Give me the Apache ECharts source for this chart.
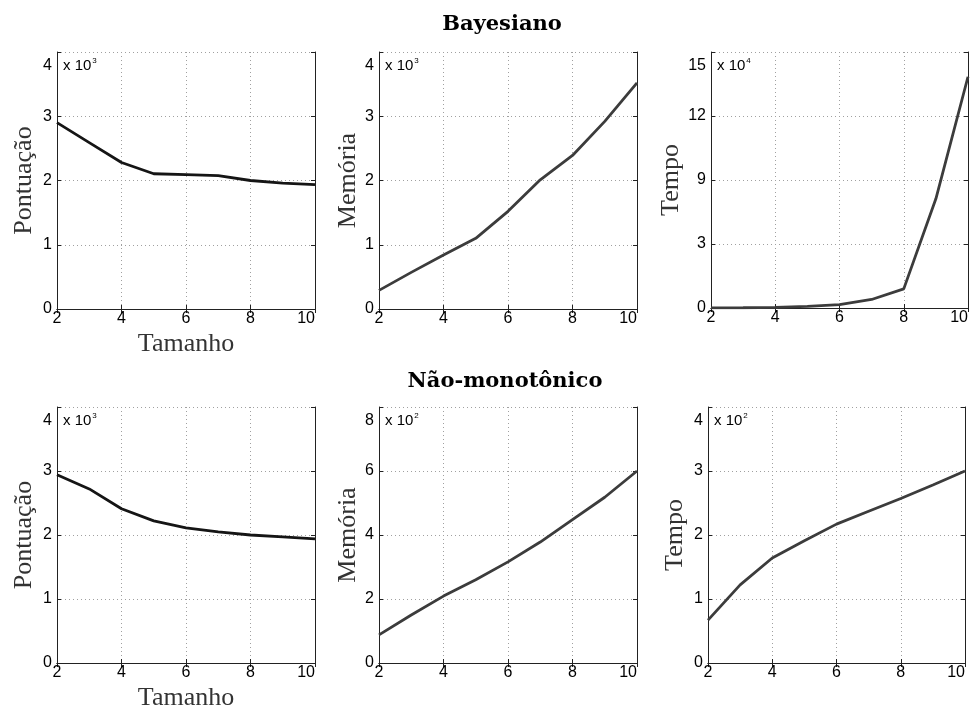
<!DOCTYPE html>
<html>
<head>
<meta charset="utf-8">
<script src="https://cdn.jsdelivr.net/npm/echarts@6/dist/echarts.min.js"></script>
<style>
  html, body { margin: 0; padding: 0; background: #fff; }
  #main { width: 970px; height: 711px; }
</style>
</head>
<body>
<div id="main"></div>
<script>
// tamanho (x)
var sizes = [2, 3, 4, 5, 6, 7, 8, 9, 10];

// Bayesiano
var scoreBayes = [2900, 2590, 2280, 2105, 2090, 2075, 2000, 1960, 1935];
var memBayes = [290, 570, 840, 1100, 1520, 2010, 2390, 2920, 3520];
var timeBayes = [60, 150, 400, 900, 2000, 5000, 11200, 64000, 135500];

// Não-monotônico
var scoreNM = [2940, 2720, 2410, 2220, 2110, 2050, 2000, 1970, 1940];
var memNM = [88, 150, 209, 260, 316, 378, 448, 518, 600];
var timeNM = [67, 122, 164, 191, 217, 237, 257, 278, 300];

// tick labels as printed
var ticksFour = ['0', '1', '2', '3', '4'];
var ticksTimeBayes = ['0', '3', '9', '12', '15'];
var ticksEight = ['0', '2', '4', '6', '8'];
var xTicks = ['2', '4', '6', '8', '10'];

var panels = [
  {box: [57, 52, 258, 257], data: scoreBayes, ticks: ticksFour, max: 4000, exp: '3', name: 'Pontuação', gap: 20, xName: 'Tamanho', color: '#151515'},
  {box: [379, 52, 258, 257], data: memBayes, ticks: ticksFour, max: 4000, exp: '3', name: 'Memória', gap: 14, color: '#3c3c3c'},
  {box: [711, 52, 257, 256], data: timeBayes, ticks: ticksTimeBayes, max: 150000, exp: '4', name: 'Tempo', gap: 24, color: '#3c3c3c'},
  {box: [57, 407, 258, 256], data: scoreNM, ticks: ticksFour, max: 4000, exp: '3', name: 'Pontuação', gap: 20, xName: 'Tamanho', color: '#151515'},
  {box: [379, 407, 258, 256], data: memNM, ticks: ticksEight, max: 800, exp: '2', name: 'Memória', gap: 14, color: '#3c3c3c'},
  {box: [708, 407, 257, 256], data: timeNM, ticks: ticksFour, max: 400, exp: '2', name: 'Tempo', gap: 20, color: '#3c3c3c'}
];

var sans = 'Liberation Sans';
var serif = 'Liberation Serif';
var grids = [], xAxes = [], yAxes = [], series = [], graphics = [];

var lineAxis = {show: true, lineStyle: {color: '#222', width: 1}};
var tickIn = {show: true, inside: true, length: 4, lineStyle: {color: '#222'}};
var dotted = {show: true, lineStyle: {color: '#a0a0a0', width: 1, type: [1, 3]}};

panels.forEach(function (p, i) {
  var step = p.max / 4;
  grids.push({left: p.box[0], top: p.box[1], width: p.box[2], height: p.box[3], outerBoundsMode: 'none'});

  xAxes.push({
    type: 'value', gridIndex: i, position: 'bottom', min: 2, max: 10, interval: 2,
    axisLine: lineAxis, axisTick: tickIn, splitLine: dotted,
    axisLabel: {
      color: '#000', fontFamily: sans, fontSize: 16, margin: 2, alignMaxLabel: 'right',
      formatter: function (v) { return xTicks[Math.round((v - 2) / 2)]; }
    },
    name: p.xName || '', nameLocation: 'middle', nameGap: 22,
    nameTextStyle: {fontFamily: serif, fontSize: 26, color: '#333'}
  });
  xAxes.push({
    type: 'value', gridIndex: i, position: 'top', min: 2, max: 10, interval: 2,
    axisLine: lineAxis, axisTick: tickIn, axisLabel: {show: false}, splitLine: {show: false}
  });

  yAxes.push({
    type: 'value', gridIndex: i, position: 'left', min: 0, max: p.max, interval: step,
    axisLine: lineAxis, axisTick: tickIn, splitLine: dotted,
    axisLabel: {
      color: '#000', fontFamily: sans, fontSize: 16, margin: 5,
      formatter: function (v) {
        var k = Math.round(v / step);
        return k === 4 ? '{top|' + p.ticks[k] + '}' : p.ticks[k];
      },
      rich: {top: {fontFamily: sans, fontSize: 16, color: '#000', padding: [28, 0, 0, 0]}}
    },
    name: p.name, nameLocation: 'middle', nameGap: p.gap, nameRotate: 90,
    nameTextStyle: {fontFamily: serif, fontSize: 26, color: '#333'}
  });
  yAxes.push({
    type: 'value', gridIndex: i, position: 'right', min: 0, max: p.max, interval: step,
    axisLine: lineAxis, axisTick: tickIn, axisLabel: {show: false}, splitLine: {show: false}
  });

  series.push({
    type: 'line', xAxisIndex: 2 * i, yAxisIndex: 2 * i,
    data: sizes.map(function (s, k) { return [s, p.data[k]]; }),
    showSymbol: false, symbol: 'none',
    lineStyle: {color: p.color, width: 2.8}
  });

  graphics.push({
    type: 'text', left: p.box[0] + 6, top: p.box[1] + 5,
    style: {
      text: '{a|x 10}{b|' + p.exp + '}',
      rich: {
        a: {fontFamily: sans, fontSize: 15, fill: '#000', color: '#000'},
        b: {fontFamily: sans, fontSize: 8, fill: '#000', color: '#000', padding: [0, 0, 10, 1]}
      }
    }
  });
});

graphics.push({
  type: 'text', x: 502, y: 25,
  style: {text: 'Bayesiano', fontFamily: 'DejaVu Serif', fontWeight: 'bold', fontSize: 21, fill: '#000',
    align: 'center', verticalAlign: 'middle'}
});
graphics.push({
  type: 'text', x: 505, y: 382,
  style: {text: 'Não-monotônico', fontFamily: 'DejaVu Serif', fontWeight: 'bold', fontSize: 21, fill: '#000',
    align: 'center', verticalAlign: 'middle'}
});

var chart = echarts.init(document.getElementById('main'));
chart.setOption({
  animation: false,
  backgroundColor: '#fff',
  grid: grids,
  xAxis: xAxes,
  yAxis: yAxes,
  series: series,
  graphic: graphics
});
</script>
</body>
</html>
